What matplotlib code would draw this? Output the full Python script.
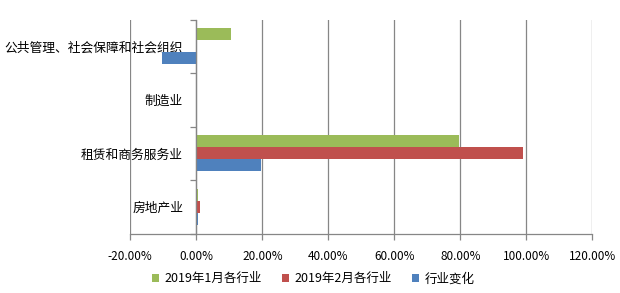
import matplotlib.pyplot as plt
from matplotlib.ticker import FixedLocator, FuncFormatter

plt.rcParams['font.family'] = ['Noto Sans CJK SC', 'DejaVu Sans']

categories = ['公共管理、社会保障和社会组织', '制造业', '租赁和商务服务业', '房地产业']
jan = [10.4, 0.0, 79.5, 0.6]
feb = [0.0, 0.0, 99.0, 1.2]
chg = [-10.4, 0.0, 19.5, 0.5]
series_names = ['2019年1月各行业', '2019年2月各行业', '行业变化']
colors = ['#9BBB59', '#C0504D', '#4F81BD']
xticks = [-20, 0, 20, 40, 60, 80, 100, 120]

grey = '#868686'

fig = plt.figure(figsize=(6.2, 2.93), dpi=100)
ax = fig.add_axes([0.2102, 0.2024, 0.7452, 0.7304])

h = 0.224
pos = list(range(len(categories)))
offsets = [-h, 0, h]
for vals, off, c, name in zip([jan, feb, chg], offsets, colors, series_names):
    ax.barh([p + off for p in pos], vals, height=h, color=c, label=name, zorder=3)

ax.set_xlim(-20, 120)
ax.set_ylim(3.5, -0.5)
ax.set_xticks(xticks)
ax.xaxis.set_major_formatter(FuncFormatter(lambda v, p: '{:.2f}%'.format(v)))
ax.grid(axis='x', color=grey, linewidth=0.9, zorder=0)
ax.tick_params(axis='x', length=4, width=0.9, color=grey, labelsize=8.5, pad=8)

# category axis sits at zero
ax.spines['left'].set_position(('data', 0))
ax.spines['left'].set_color(grey)
ax.spines['left'].set_linewidth(0.9)
ax.spines['left'].set_zorder(4)
ax.yaxis.set_major_locator(FixedLocator([-0.5, 0.5, 1.5, 2.5, 3.5]))
ax.yaxis.set_major_formatter(FuncFormatter(lambda v, p: ''))
ax.yaxis.set_minor_locator(FixedLocator(pos))
ax.set_yticklabels(categories, minor=True)
ax.tick_params(axis='y', which='major', length=4, width=0.9, color=grey)
ax.tick_params(axis='y', which='minor', length=0, labelsize=9.2, pad=9.5)

ax.spines['bottom'].set_color(grey)
ax.spines['bottom'].set_linewidth(0.9)
ax.spines['top'].set_visible(False)
ax.spines['right'].set_visible(False)

fig.legend(loc='center', bbox_to_anchor=(0.505, 0.048), ncol=3, frameon=False,
           fontsize=9, handlelength=0.6, handleheight=0.6, handletextpad=0.4,
           columnspacing=1.6)

fig.savefig('out.png', dpi=100)
